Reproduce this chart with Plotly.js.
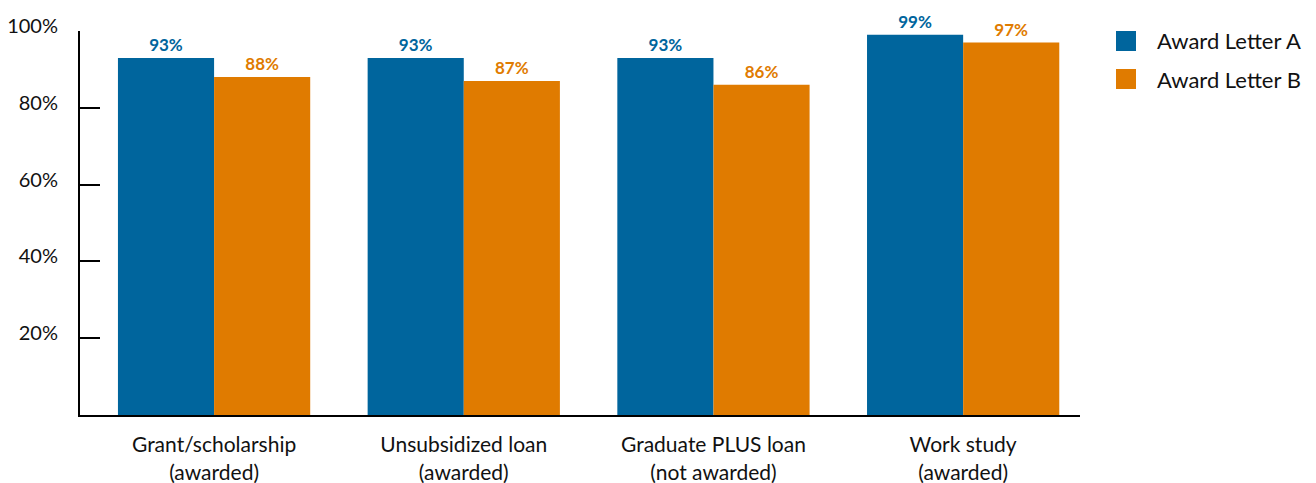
<!DOCTYPE html>
<html>
<head>
<meta charset="utf-8">
<script src="https://cdn.plot.ly/plotly-3.0.1.min.js"></script>
<style>html,body{margin:0;padding:0;background:#fff;}#chart{width:1316px;height:483px;}</style>
</head>
<body>
<div id="chart"></div>
<script>
const categories = ["Grant/scholarship<br>(awarded)", "Unsubsidized loan<br>(awarded)", "Graduate PLUS loan<br>(not awarded)", "Work study<br>(awarded)"];
const seriesNames = ["Award Letter A", "Award Letter B"];
const letterA = [93, 93, 93, 99];
const letterB = [88, 87, 86, 97];
const yTickVals = [20, 40, 60, 80, 100];
const yTickText = ["20%", "40%", "60%", "80%", "100%"];
const colors = ["#00659D", "#E07B00"];

const FONT = "Lato, 'Noto Sans', sans-serif";
const series = [letterA, letterB];

const traces = series.map((vals, i) => ({
  type: "bar",
  name: seriesNames[i],
  x: categories,
  y: vals,
  marker: {color: colors[i]},
  text: vals.map(v => v + "%"),
  textposition: "outside",
  textfont: {family: FONT, size: 17, color: colors[i], weight: 700},
  cliponaxis: false,
  showlegend: false,
  hoverinfo: "skip"
}));

const shapes = [];
const annotations = [];
seriesNames.forEach((n, i) => {
  const y0 = 31 + i * 38;
  shapes.push({type: "rect", xref: "paper", yref: "paper",
    x0: (1116 - 80) / 1000, x1: (1136 - 80) / 1000,
    y0: (415 - y0 - 20) / 384, y1: (415 - y0) / 384,
    fillcolor: colors[i], line: {width: 0}});
  annotations.push({xref: "paper", yref: "paper", x: (1155 - 80) / 1000, y: (415 - y0 - 10) / 384,
    xanchor: "left", yanchor: "middle", showarrow: false, text: n,
    font: {family: FONT, size: 22, color: "#111"}});
});

const layout = {
  width: 1316, height: 483,
  margin: {l: 80, r: 236, t: 31, b: 68},
  paper_bgcolor: "#fff", plot_bgcolor: "#fff",
  barmode: "group", bargap: 0.23, bargroupgap: 0,
  showlegend: false,
  font: {family: FONT, color: "#111"},
  xaxis: {
    type: "category", range: [-0.537, 3.468],
    showline: true, linecolor: "#000", linewidth: 2,
    ticks: "", showgrid: false, zeroline: false,
    tickfont: {family: FONT, size: 21, color: "#111"},
    ticklabelstandoff: 10
  },
  yaxis: {
    range: [0, 100], tickvals: yTickVals, ticktext: yTickText,
    showline: true, linecolor: "#000", linewidth: 2,
    ticks: "inside", ticklen: 20, tickwidth: 2, tickcolor: "#000",
    showgrid: false, zeroline: false,
    tickfont: {family: FONT, size: 20, color: "#111"},
    ticklabelshift: -5, ticklabelstandoff: 16
  },
  shapes: shapes,
  annotations: annotations
};

Plotly.newPlot("chart", traces, layout, {displayModeBar: false, staticPlot: true});
</script>
</body>
</html>
